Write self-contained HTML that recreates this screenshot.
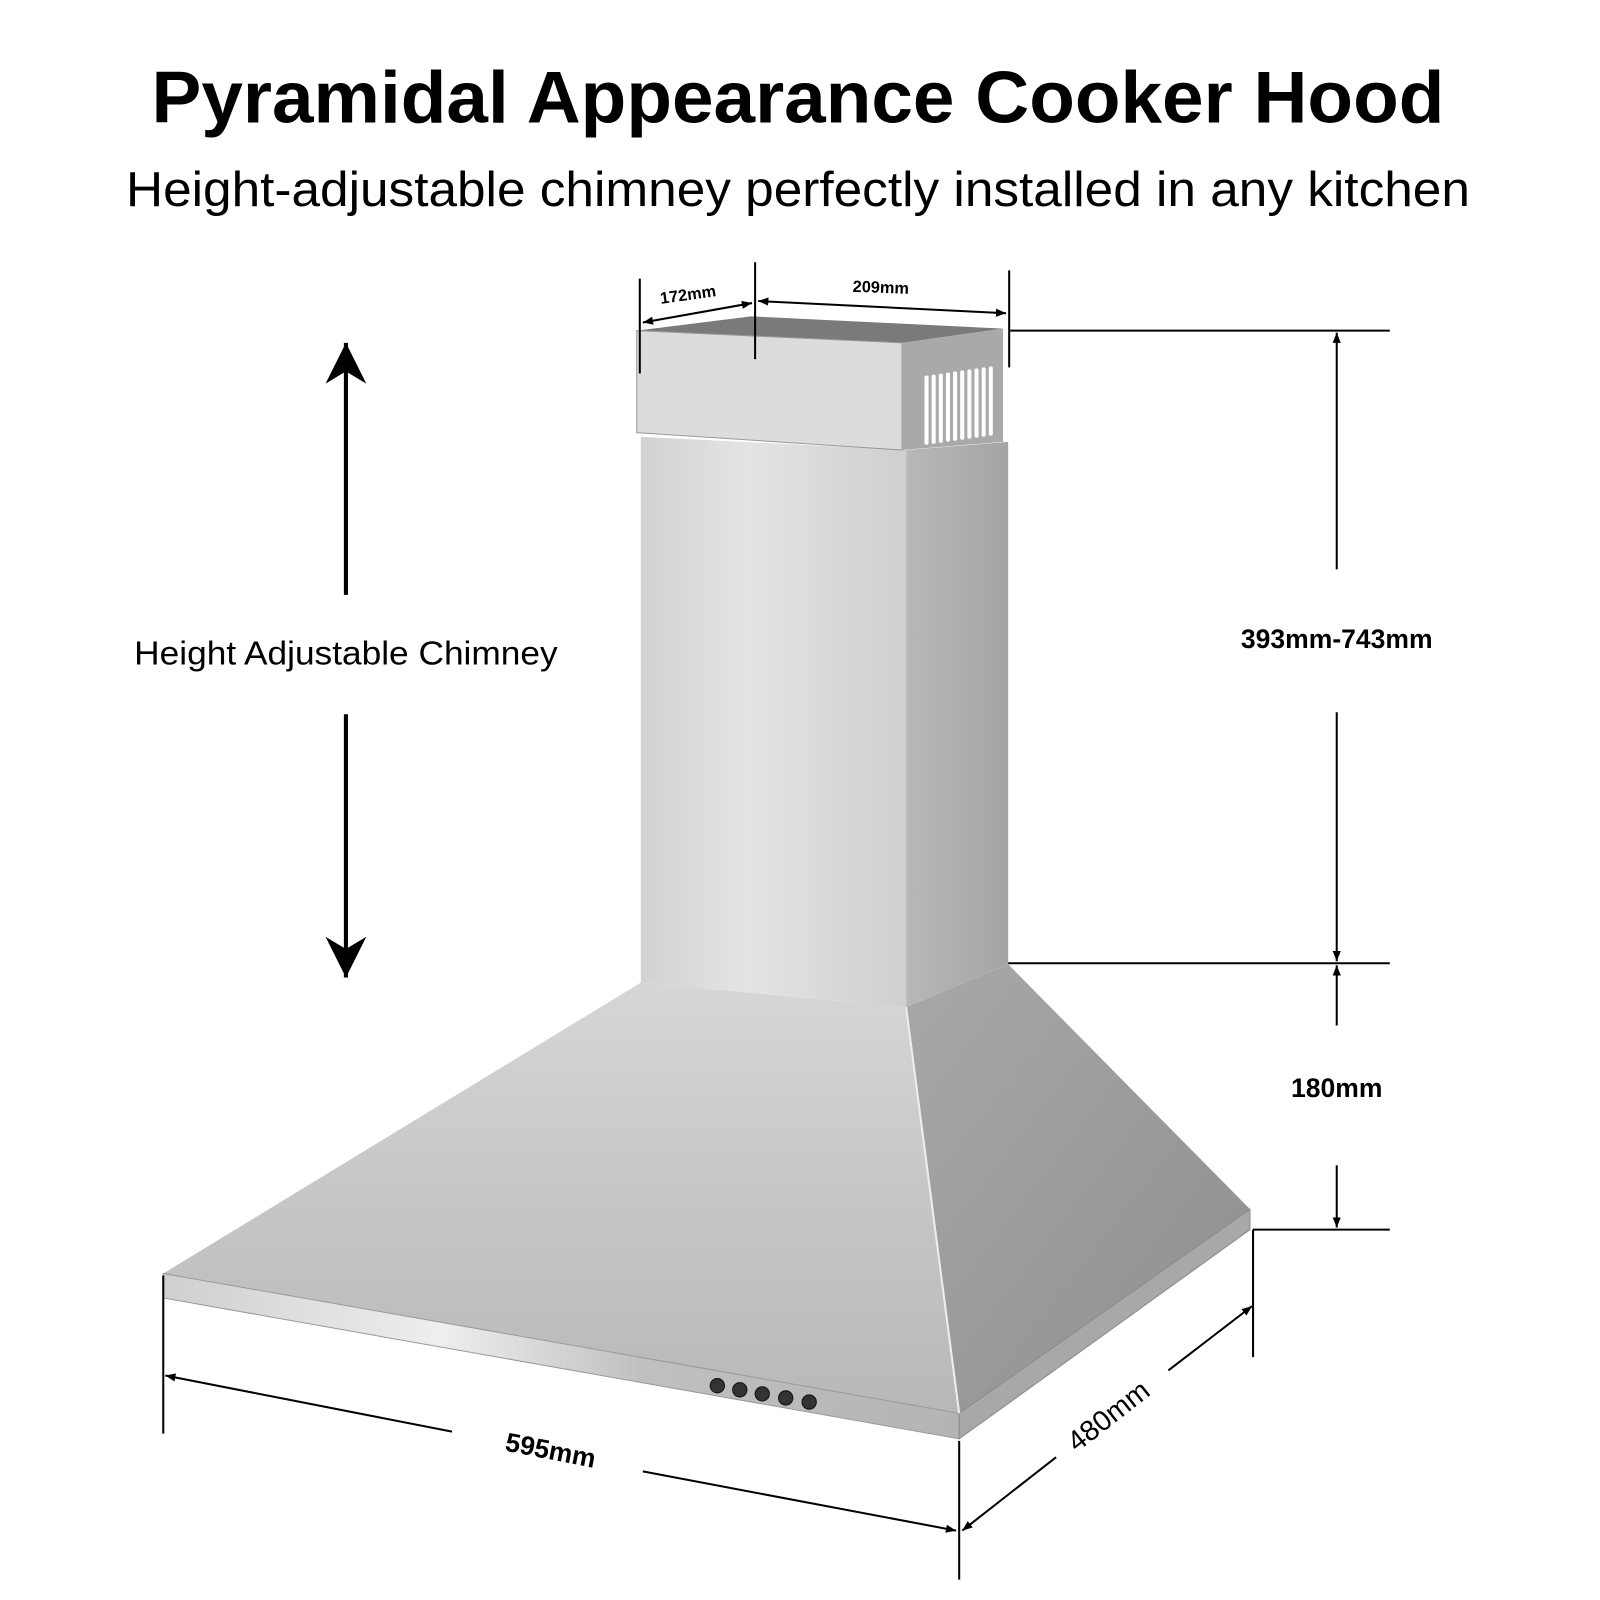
<!DOCTYPE html>
<html><head><meta charset="utf-8"><style>
html,body{margin:0;padding:0;background:#fff}
svg{display:block}
</style></head><body>
<svg width="1600" height="1600" viewBox="0 0 1568 1568" xmlns="http://www.w3.org/2000/svg" font-family="Liberation Sans, sans-serif">
<defs>
<linearGradient id="fr" x1="0" y1="0" x2="1" y2="0"><stop offset="0" stop-color="#d2d2d2"/><stop offset="0.4" stop-color="#e4e4e4"/><stop offset="1" stop-color="#cfcfcf"/></linearGradient>
<linearGradient id="rt" x1="0" y1="0" x2="1" y2="0"><stop offset="0" stop-color="#b8b8b8"/><stop offset="1" stop-color="#a4a4a4"/></linearGradient>
<linearGradient id="pf" x1="0" y1="0" x2="0" y2="1"><stop offset="0" stop-color="#d6d6d6"/><stop offset="0.5" stop-color="#c6c6c6"/><stop offset="1" stop-color="#b8b8b8"/></linearGradient>
<linearGradient id="pr" x1="0" y1="0" x2="1" y2="1"><stop offset="0" stop-color="#a8a8a8"/><stop offset="1" stop-color="#8e8e8e"/></linearGradient>
<linearGradient id="rim" x1="0" y1="0" x2="1" y2="0"><stop offset="0" stop-color="#cfcfcf"/><stop offset="0.35" stop-color="#eeeeee"/><stop offset="0.6" stop-color="#c0c0c0"/><stop offset="1" stop-color="#b4b4b4"/></linearGradient>
<marker id="ah" viewBox="0 0 10 10" refX="10" refY="5" markerWidth="10" markerHeight="10" orient="auto-start-reverse" markerUnits="userSpaceOnUse"><path d="M0,1 L10,5 L0,9 z" fill="#000"/></marker>
<marker id="big" viewBox="0 0 10 10" refX="10" refY="5" markerWidth="40" markerHeight="40" orient="auto-start-reverse" markerUnits="userSpaceOnUse"><path d="M0,0 L10,5 L0,10 L3,5 z" fill="#000"/></marker>
</defs>

<text x="782" y="120" text-anchor="middle" font-size="72" font-weight="bold" textLength="1267" lengthAdjust="spacingAndGlyphs">Pyramidal Appearance Cooker Hood</text>
<text x="782" y="202" text-anchor="middle" font-size="48" textLength="1317" lengthAdjust="spacingAndGlyphs">Height-adjustable chimney perfectly installed in any kitchen</text>

<polygon points="628,963 888,987 940,1385 160,1248" fill="url(#pf)"/>
<polygon points="888,987 988,945 1225,1185 940,1385" fill="url(#pr)"/>
<polygon points="160,1248 940,1385 940,1410 160,1272" fill="url(#rim)" stroke="#9a9a9a" stroke-width="1"/>
<polygon points="940,1385 1225,1185 1225,1205 940,1410" fill="#a8a8a8" stroke="#8a8a8a" stroke-width="1"/>
<line x1="888" y1="987" x2="940" y2="1385" stroke="#eee" stroke-width="2"/>
<g fill="#333" stroke="#111"><circle cx="703" cy="1358" r="7"/><circle cx="725" cy="1362" r="7"/><circle cx="747" cy="1366" r="7"/><circle cx="770" cy="1370" r="7"/><circle cx="793" cy="1374" r="7"/></g>

<polygon points="628,428 888,441 888,987 628,963" fill="url(#fr)"/>
<polygon points="888,441 988,433 988,945 888,987" fill="url(#rt)"/>
<polygon points="624,324 736,310 983,322 884,336" fill="#7a7a7a"/>
<polygon points="624,324 884,336 884,441 624,424" fill="#dcdcdc" stroke="#999" stroke-width="1"/>
<polygon points="884,336 983,322 983,433 884,441" fill="#a9a9a9"/>
<g fill="#fff">
<rect x="906" y="368" width="4" height="68" rx="2"/><rect x="913" y="367" width="4" height="68" rx="2"/><rect x="920" y="366" width="4" height="68" rx="2"/><rect x="927" y="365" width="4" height="68" rx="2"/><rect x="934" y="364" width="4" height="68" rx="2"/><rect x="941" y="363" width="4" height="68" rx="2"/><rect x="948" y="362" width="4" height="68" rx="2"/><rect x="955" y="361" width="4" height="68" rx="2"/><rect x="962" y="360" width="4" height="68" rx="2"/><rect x="969" y="359" width="4" height="68" rx="2"/>
</g>

<g stroke="#000" stroke-width="2" fill="none">
<line x1="627" y1="273" x2="627" y2="366"/>
<line x1="740" y1="257" x2="740" y2="352"/>
<line x1="989" y1="265" x2="989" y2="360"/>
<line x1="630" y1="316" x2="737" y2="297" marker-start="url(#ah)" marker-end="url(#ah)"/>
<line x1="743" y1="295" x2="986" y2="307" marker-start="url(#ah)" marker-end="url(#ah)"/>
</g>
<text x="675" y="294" font-size="16" font-weight="bold" text-anchor="middle" transform="rotate(-8 675 294)">172mm</text>
<text x="863" y="287" font-size="16" font-weight="bold" text-anchor="middle" transform="rotate(2 863 287)">209mm</text>

<g stroke="#000" stroke-width="2" fill="none">
<line x1="990" y1="324" x2="1362" y2="324"/>
<line x1="988" y1="944" x2="1362" y2="944"/>
<line x1="1228" y1="1205" x2="1362" y2="1205"/>
<line x1="1228" y1="1205" x2="1228" y2="1330"/>
<line x1="1310" y1="558" x2="1310" y2="326" marker-end="url(#ah)"/>
<line x1="1310" y1="698" x2="1310" y2="942" marker-end="url(#ah)"/>
<line x1="1310" y1="1005" x2="1310" y2="946" marker-end="url(#ah)"/>
<line x1="1310" y1="1142" x2="1310" y2="1203" marker-end="url(#ah)"/>
</g>
<text x="1310" y="635" font-size="26" font-weight="bold" text-anchor="middle">393mm-743mm</text>
<text x="1310" y="1075" font-size="26" font-weight="bold" text-anchor="middle">180mm</text>

<g stroke="#000" stroke-width="4" fill="none">
<line x1="339" y1="583" x2="339" y2="336" marker-end="url(#big)"/>
<line x1="339" y1="700" x2="339" y2="958" marker-end="url(#big)"/>
</g>
<text x="339" y="651" font-size="33" text-anchor="middle" textLength="415" lengthAdjust="spacingAndGlyphs">Height Adjustable Chimney</text>

<g stroke="#000" stroke-width="2" fill="none">
<line x1="160" y1="1250" x2="160" y2="1405"/>
<line x1="940" y1="1412" x2="940" y2="1548"/>
<line x1="443" y1="1403" x2="162" y2="1348" marker-end="url(#ah)"/>
<line x1="630" y1="1442" x2="937" y2="1500" marker-end="url(#ah)"/>
<line x1="1035" y1="1428" x2="943" y2="1500" marker-end="url(#ah)"/>
<line x1="1145" y1="1343" x2="1227" y2="1280" marker-end="url(#ah)"/>
</g>
<text x="538" y="1430" font-size="26" font-weight="bold" text-anchor="middle" transform="rotate(11 538 1430)">595mm</text>
<text x="1092" y="1395" font-size="28" text-anchor="middle" transform="rotate(-38 1092 1395)">480mm</text>
</svg>
</body></html>
